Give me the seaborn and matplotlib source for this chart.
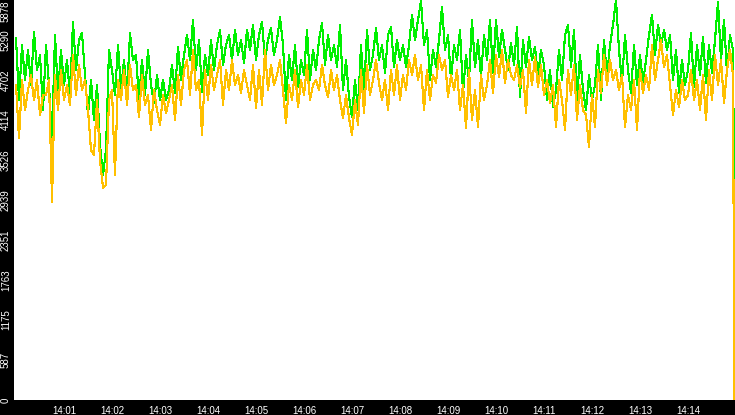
import numpy as np
import pandas as pd
import matplotlib
matplotlib.use('Agg')
import matplotlib.pyplot as plt
import matplotlib.dates as mdates
import seaborn as sns

# readings every ~3.75 s from 14:00:00, plus the final sample at 14:14:58
green_vals = [
    5319, 4408, 5217, 4702, 5143, 4629, 5408, 4849, 5070, 4261,
    5217, 4629, 3820, 5364, 4482, 5143, 4629, 4996, 4482, 5555,
    4849, 5290, 5393, 4776, 4188, 4702, 4114, 4629, 3747, 3306,
    3673, 5143, 4849, 4482, 5217, 4555, 4996, 4482, 5393, 4996,
    5070, 4408, 4996, 4482, 5143, 4629, 4364, 4776, 4408, 4702,
    4408, 4555, 4923, 4511, 5187, 4702, 5070, 5364, 4996, 5584,
    4849, 5290, 4526, 5070, 4776, 5290, 4849, 5217, 5437, 4923,
    5217, 5364, 4996, 5437, 5070, 5290, 4952, 5437, 5143, 5511,
    4996, 5364, 5555, 4996, 5290, 5466, 5070, 5290, 5628, 5217,
    4408, 5070, 4702, 5217, 4599, 4996, 4776, 5437, 4702, 5143,
    4849, 5290, 5540, 4923, 5364, 4996, 5217, 4893, 5511, 4555,
    4996, 4452, 4158, 4702, 4261, 5217, 4511, 5437, 4849, 5070,
    5466, 4996, 5217, 4805, 5364, 5481, 4893, 5290, 4996, 5217,
    4893, 5217, 5658, 5290, 5584, 5863, 5217, 5437, 4702, 5143,
    4893, 5290, 5775, 5143, 5364, 4702, 5217, 4996, 5437, 4511,
    5070, 4702, 5584, 4893, 5290, 4746, 5364, 4996, 5584, 4805,
    5584, 5040, 5437, 5143, 4849, 5246, 4923, 5481, 4452, 5290,
    4893, 5334, 4996, 5187, 4746, 5143, 4923, 4408, 4849, 4305,
    4555, 5143, 4702, 5364, 5511, 4893, 5437, 4408, 5070, 4555,
    4261, 4776, 4408, 4629, 5217, 4408, 5290, 4746, 5217, 5511,
    5878, 5143, 4658, 5364, 4849, 4511, 5217, 4629, 5070, 4658,
    4996, 5364, 5658, 5070, 5511, 5217, 5437, 5143, 5364, 4702,
    5143, 4511, 4996, 4629, 4849, 5393, 4599, 5217, 4776, 5334,
    4658, 5217, 4805, 5290, 5849, 4996, 5584, 4805, 5364, 5143,
    2470,
]
orange_vals = [
    4629, 3849, 4702, 4261, 4555, 4776, 4408, 4702, 4188, 4482,
    4482, 4702, 2909, 4776, 4261, 4849, 4408, 4629, 4335, 5070,
    4482, 4923, 4555, 4702, 4261, 3673, 3600, 4408, 3526, 3114,
    3159, 4408, 4555, 3306, 4702, 4408, 4849, 4335, 4923, 4555,
    4629, 4158, 4776, 4335, 4482, 3967, 4555, 4261, 4041, 4482,
    4217, 4408, 4629, 4114, 4776, 4335, 4849, 4996, 4482, 5143,
    4555, 4702, 3894, 4849, 4408, 4923, 4555, 4776, 4996, 4335,
    4849, 4555, 4996, 4629, 4776, 4511, 4849, 4629, 4408, 4923,
    4290, 4849, 4335, 5143, 4555, 4923, 4629, 4776, 4996, 4555,
    4070, 4629, 4408, 4849, 4305, 4702, 4482, 4923, 4408, 4629,
    4702, 4555, 4923, 4629, 4452, 4849, 4555, 4776, 4408, 4143,
    4482, 4143, 3894, 4408, 4041, 4849, 4217, 4923, 4482, 4702,
    4996, 4658, 4408, 4702, 4261, 4849, 4482, 4923, 4408, 4776,
    4555, 4996, 4776, 5070, 4702, 4923, 4261, 4849, 4408, 4776,
    4658, 5070, 4849, 4996, 4452, 4776, 4555, 4849, 4261, 4629,
    3996, 4849, 4114, 4555, 4011, 4776, 4408, 4629, 4996, 4511,
    5070, 4746, 5143, 4658, 4996, 4776, 4702, 4923, 4599, 4849,
    4217, 4996, 4629, 5040, 4599, 4923, 4482, 4702, 4364, 4629,
    4011, 4702, 4408, 3967, 4849, 4482, 4923, 4114, 4629, 4261,
    4188, 3717, 4482, 4011, 4849, 4511, 5070, 4629, 4996, 4702,
    4849, 4555, 4776, 4011, 4482, 4261, 4702, 3967, 4849, 4511,
    4776, 4555, 5217, 4702, 4996, 5290, 4893, 5070, 4629, 4188,
    4555, 4305, 4702, 4408, 4482, 4849, 4408, 4702, 4261, 4776,
    4114, 4849, 4408, 5070, 4629, 4996, 4364, 4849, 5143, 4776,
    0,
]

ytick_vals = [0, 587.8, 1175.6, 1763.4, 2351.2, 2939, 3526.8, 4114.6, 4702.4, 5290.2, 5878]
ytick_labels = ['0', '587', '1175', '1763', '2351', '2939', '3526', '4114', '4702', '5290', '5878']
xtick_minutes = ['14:01', '14:02', '14:03', '14:04', '14:05', '14:06', '14:07',
                 '14:08', '14:09', '14:10', '14:11', '14:12', '14:13', '14:14']

day = '2024-01-01 '
t0 = pd.Timestamp(day + '14:00:00')
times = pd.date_range(t0, periods=len(green_vals) - 1, freq='3750ms')
times = times.append(pd.DatetimeIndex([pd.Timestamp(day + '14:14:58')]))

n = len(times)
df = pd.DataFrame({
    'time': list(times) * 2,
    'value': green_vals + orange_vals,
    'series': ['green'] * n + ['orange'] * n,
})

sns.set_style('white')
plt.rcParams['font.family'] = ['Liberation Sans', 'DejaVu Sans']

fig = plt.figure(figsize=(7.35, 4.15), dpi=100, facecolor='black')
ax = fig.add_axes([14 / 735, 15 / 415, 721 / 735, 400 / 415])
sns.lineplot(data=df, x='time', y='value', hue='series',
             palette={'green': '#00f000', 'orange': '#ffc000'},
             estimator=None, linewidth=0.8, legend=False, ax=ax,
             antialiased=False)

ax.set_facecolor('white')
ax.set_xlim(t0 - pd.Timedelta(milliseconds=2500), t0 + pd.Timedelta(milliseconds=898750))
ax.set_ylim(0, 5878)
for s in ax.spines.values():
    s.set_visible(False)
ax.set_xlabel('')
ax.set_ylabel('')

ax.set_xticks([pd.Timestamp(day + m) for m in xtick_minutes])
ax.xaxis.set_major_formatter(mdates.DateFormatter('%H:%M'))
ax.set_yticks(ytick_vals)
ax.set_yticklabels(ytick_labels, rotation=90, va='center')
ax.get_yticklabels()[-1].set_va('top')

ax.tick_params(axis='both', colors='white', labelcolor='white', labelsize=7, width=0.8)
ax.tick_params(axis='x', length=3.5, pad=1)
ax.tick_params(axis='y', length=2.2, pad=0)

fig.savefig('out.png', dpi=100, facecolor='black')
